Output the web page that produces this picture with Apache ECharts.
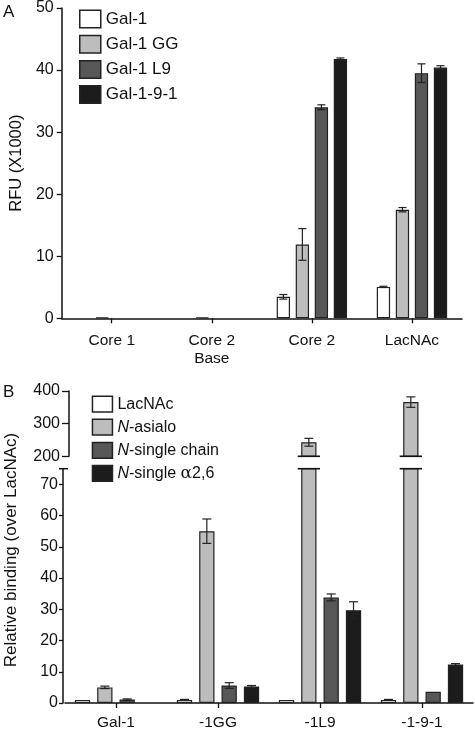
<!DOCTYPE html>
<html><head><meta charset="utf-8">
<script src="https://cdn.jsdelivr.net/npm/echarts@6/dist/echarts.min.js"></script>
<style>html,body{margin:0;padding:0;background:#fff}#c{width:475px;height:731px}</style>
</head><body><div id="c"></div>
<script>
// ---------- Panel A data (null = no visible bar) ----------
const catsA = ['Core 1', 'Core 2\nBase', 'Core 2', 'LacNAc'];
const namesA = ['Gal-1', 'Gal-1 GG', 'Gal-1 L9', 'Gal-1-9-1'];
const aGal1 = [null, null, 3.46, 5.06];
const aGal1Err = [0, 0, 0.37, 0.1];
const aGG = [0.15, 0.15, 11.9, 17.5];
const aGGErr = [0, 0, 2.55, 0.35];
const aL9 = [null, null, 34.0, 39.5];
const aL9Err = [0, 0, 0.4, 1.5];
const a91 = [null, null, 41.8, 40.4];
const a91Err = [0, 0, 0.15, 0.3];
const yTicksA = [0, 10, 20, 30, 40, 50];

// ---------- Panel B data ----------
const catsB = ['Gal-1', '-1GG', '-1L9', '-1-9-1'];
const namesB = ['LacNAc', 'N-asialo', 'N-single chain', 'N-single α2,6'];
const bLac = [1, 1, 1, 1];
const bLacErr = [0, 0.15, 0, 0.15];
const bAsialo = [5.0, 55, 243, 366];
const bAsialoErr = [0.4, 3.9, 12, 16];
const bChain = [1.1, 5.6, 33.8, 3.6];
const bChainErr = [0.2, 0.9, 1.1, 0];
const bA26 = [null, 5.3, 29.7, 12.3];
const bA26Err = [0, 0.3, 2.7, 0.3];
const yTicksBLow = [0, 10, 20, 30, 40, 50, 60, 70];
const yBLowMax = 75;
const yTicksBHigh = [200, 300, 400];

// ---------- styling ----------
const FONT = 'Liberation Sans, Arial, Helvetica, sans-serif';
const INK = '#111';
const fills = ['#ffffff', '#bdbdbd', '#575757', '#1c1c1c'];
const BW_A = 13.3, GAP_A = 0.43;
const BW_B = 15.3, GAP_B = 0.46;

const valsA = [aGal1, aGG, aL9, a91];
const errsA = [aGal1Err, aGGErr, aL9Err, a91Err];
const valsB = [bLac, bAsialo, bChain, bA26];
const errsB = [bLacErr, bAsialoErr, bChainErr, bA26Err];

function errRender(bw, gap, capW) {
  return function (params, api) {
    const c = api.value(0), v = api.value(1), e = api.value(2), s = api.value(3);
    const off = (s - 1.5) * bw * (1 + gap);
    const t = api.coord([c, v + e]);
    const b = api.coord([c, v - e]);
    const x = t[0] + off;
    const st = { stroke: '#222', lineWidth: 1.2 };
    return {
      type: 'group',
      children: [
        { type: 'line', shape: { x1: x, y1: t[1], x2: x, y2: b[1] }, style: st },
        { type: 'line', shape: { x1: x - capW / 2, y1: t[1], x2: x + capW / 2, y2: t[1] }, style: st },
        { type: 'line', shape: { x1: x - capW / 2, y1: b[1], x2: x + capW / 2, y2: b[1] }, style: st }
      ]
    };
  };
}

function errData(vals, errs, keep) {
  const out = [];
  vals.forEach((arr, s) => arr.forEach((v, c) => {
    if (v != null && errs[s][c] > 0 && keep(v, errs[s][c])) out.push([c, v, errs[s][c], s]);
  }));
  return out;
}

function breakRender(yVal) {
  return function (params, api) {
    const c = api.value(0), s = api.value(1);
    const off = (s - 1.5) * BW_B * (1 + GAP_B);
    const p = api.coord([c, yVal]);
    const x = p[0] + off;
    return { type: 'line', shape: { x1: x - BW_B / 2 - 3.5, y1: p[1], x2: x + BW_B / 2 + 3.5, y2: p[1] },
      style: { stroke: '#111', lineWidth: 1.6 } };
  };
}
const breakData = [];
bAsialo.forEach((v, c) => { if (v > yBLowMax) breakData.push([c, 1]); });

const series = [];
valsA.forEach((d, i) => series.push({
  type: 'bar', name: namesA[i], xAxisIndex: 0, yAxisIndex: 0, data: d,
  barWidth: BW_A, barGap: (GAP_A * 100) + '%',
  itemStyle: { color: fills[i], borderColor: '#222', borderWidth: 1.2 }
}));
series.push({
  type: 'custom', xAxisIndex: 0, yAxisIndex: 0, z: 5, silent: true,
  renderItem: errRender(BW_A, GAP_A, 8), data: errData(valsA, errsA, () => true)
});
valsB.forEach((d, i) => {
  series.push({
    type: 'bar', name: namesB[i], xAxisIndex: 1, yAxisIndex: 1, data: d,
    barWidth: BW_B, barGap: (GAP_B * 100) + '%', clip: true,
    itemStyle: { color: fills[i], borderColor: '#222', borderWidth: 1.2 }
  });
  series.push({
    type: 'bar', name: namesB[i], xAxisIndex: 2, yAxisIndex: 2, data: d,
    barWidth: BW_B, barGap: (GAP_B * 100) + '%', clip: true,
    itemStyle: { color: fills[i], borderColor: '#222', borderWidth: 1.2 }
  });
});
series.push({
  type: 'custom', xAxisIndex: 1, yAxisIndex: 1, z: 5, silent: true,
  renderItem: errRender(BW_B, GAP_B, 9), data: errData(valsB, errsB, (v, e) => v + e <= yBLowMax)
});
series.push({
  type: 'custom', xAxisIndex: 2, yAxisIndex: 2, z: 5, silent: true,
  renderItem: errRender(BW_B, GAP_B, 9), data: errData(valsB, errsB, (v, e) => v - e >= yTicksBHigh[0])
});
series.push({ type: 'custom', xAxisIndex: 1, yAxisIndex: 1, z: 6, clip: false, silent: true,
  renderItem: breakRender(yBLowMax), data: breakData });
series.push({ type: 'custom', xAxisIndex: 2, yAxisIndex: 2, z: 6, clip: false, silent: true,
  renderItem: breakRender(yTicksBHigh[0]), data: breakData });
// axis break cap on lower y axis
series.push({ type: 'custom', xAxisIndex: 1, yAxisIndex: 1, z: 6, clip: false, silent: true,
  data: [[0, yBLowMax]],
  renderItem: function (params, api) {
    const p = api.coord([api.value(0), api.value(1)]);
    const ax = params.coordSys.x - 2;
    return { type: 'line', shape: { x1: ax - 4, y1: p[1], x2: ax + 5, y2: p[1] },
      style: { stroke: '#111', lineWidth: 1.5 } };
  }
});

const axisLine = { show: true, lineStyle: { color: INK, width: 1.5 } };
const axisTick = { show: true, length: 5, lineStyle: { color: INK, width: 1.3 } };

const option = {
  animation: false,
  backgroundColor: '#fff',
  textStyle: { fontFamily: FONT },
  grid: [
    { left: 53, right: 13, top: 5.8, bottom: 412.7 },
    { left: 65, right: 2, top: 468.7, bottom: 28 },
    { left: 65, right: 2, top: 391, bottom: 274.7 }
  ],
  xAxis: [
    { gridIndex: 0, type: 'category', data: catsA, axisLine, axisTick: Object.assign({ alignWithLabel: true }, axisTick),
      axisLabel: { color: INK, fontSize: 15.5, fontFamily: FONT, margin: 13, lineHeight: 18 } },
    { gridIndex: 1, type: 'category', data: catsB, axisLine, axisTick: Object.assign({ alignWithLabel: true }, axisTick),
      axisLabel: { color: INK, fontSize: 15.5, fontFamily: FONT, margin: 12 } },
    { gridIndex: 2, type: 'category', data: catsB, show: false }
  ],
  yAxis: [
    { gridIndex: 0, type: 'value', min: yTicksA[0], max: yTicksA[yTicksA.length - 1], interval: yTicksA[1] - yTicksA[0],
      axisLine, axisTick, splitLine: { show: false },
      axisLabel: { color: INK, fontSize: 16, fontFamily: FONT, margin: 8 },
      name: 'RFU (X1000)', nameLocation: 'middle', nameGap: 35,
      nameTextStyle: { color: INK, fontSize: 16.5, fontFamily: FONT } },
    { gridIndex: 1, type: 'value', min: yTicksBLow[0], max: yBLowMax, interval: yTicksBLow[1] - yTicksBLow[0],
      offset: 2, axisLine, axisTick: Object.assign({}, axisTick, { length: 4 }), splitLine: { show: false },
      axisLabel: { color: INK, fontSize: 16, fontFamily: FONT, margin: 5 } },
    { gridIndex: 2, type: 'value', min: yTicksBHigh[0], max: yTicksBHigh[yTicksBHigh.length - 1],
      interval: yTicksBHigh[1] - yTicksBHigh[0],
      offset: -4, axisLine, axisTick: Object.assign({}, axisTick, { length: 7 }), splitLine: { show: false },
      axisLabel: { color: INK, fontSize: 16, fontFamily: FONT, margin: 9 } }
  ],
  legend: [
    { data: namesA, orient: 'vertical', left: 79, top: 9.5, padding: 0, icon: 'rect',
      itemWidth: 21, itemHeight: 17.5, itemGap: 6.2, selectedMode: false,
      itemStyle: { borderColor: '#222', borderWidth: 1.5 },
      textStyle: { color: INK, fontSize: 17, lineHeight: 17.5, fontFamily: FONT } },
    { data: namesB, orient: 'vertical', left: 91.7, top: 395.5, padding: 0, icon: 'rect',
      itemWidth: 20, itemHeight: 15.7, itemGap: 5.9, selectedMode: false,
      itemStyle: { borderColor: '#222', borderWidth: 1.5 },
      formatter: function (n) { return n.indexOf('N-') === 0 ? '{i|N}' + n.slice(1).replace('α', '{g|α}') : n; },
      textStyle: { color: INK, fontSize: 16, lineHeight: 15.7, fontFamily: FONT,
        rich: { i: { fontStyle: 'italic', fontSize: 16, lineHeight: 15.7, fontFamily: FONT, color: INK },
                g: { fontSize: 17, lineHeight: 15.7, fontFamily: 'DejaVu Serif, Liberation Serif, serif', color: INK } } } }
  ],
  graphic: [
    { type: 'text', left: 3, top: 4, style: { text: 'A', fill: INK, font: '17px ' + FONT } },
    { type: 'text', left: 3, top: 384, style: { text: 'B', fill: INK, font: '17px ' + FONT } },
    { type: 'text', x: 11, y: 550, rotation: Math.PI / 2,
      style: { text: 'Relative binding (over LacNAc)', fill: INK, font: '17px ' + FONT,
        align: 'center', verticalAlign: 'middle', textAlign: 'center', textVerticalAlign: 'middle' } }
  ],
  series: series
};
const chart = echarts.init(document.getElementById('c'), null, { renderer: 'canvas' });
chart.setOption(option);
</script>
</body></html>
